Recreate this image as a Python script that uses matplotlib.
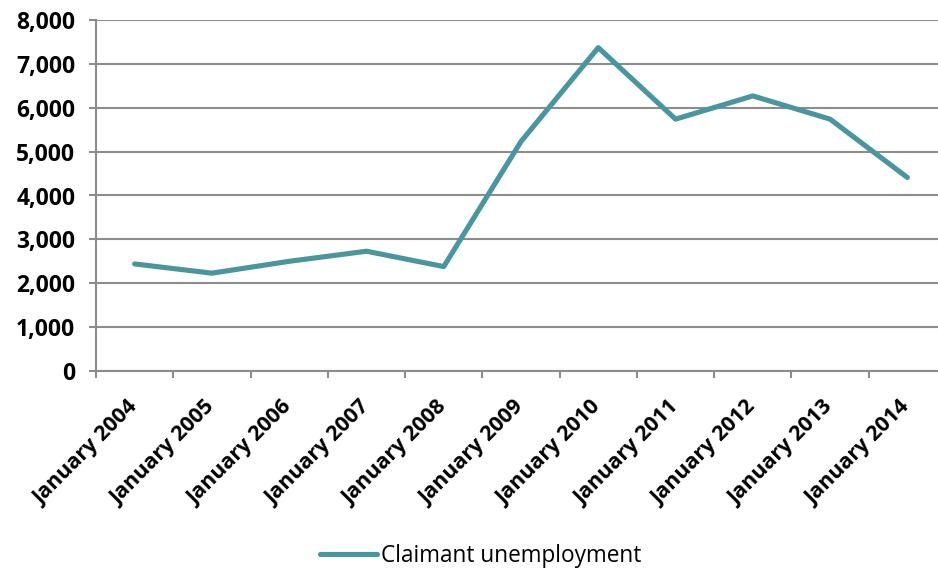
import matplotlib
matplotlib.use("Agg")
import matplotlib.pyplot as plt
from matplotlib.ticker import FuncFormatter, MultipleLocator, FixedLocator

categories = ["January 2004", "January 2005", "January 2006", "January 2007",
              "January 2008", "January 2009", "January 2010", "January 2011",
              "January 2012", "January 2013", "January 2014"]
claimant = [2440, 2230, 2500, 2730, 2380, 5230, 7370, 5740, 6270, 5740, 4410]
series_name = "Claimant unemployment"

plt.rcParams['font.family'] = ['Open Sans', 'DejaVu Sans']

W, H = 938, 572
fig = plt.figure(figsize=(W / 100, H / 100), dpi=100)
left, right, top, bottom = 96, 946, 20, 371
ax = fig.add_axes([left / W, 1 - bottom / H, (right - left) / W, (bottom - top) / H])

grid_c = "#8c8c8c"
line_c = "#4a969e"
x = list(range(len(categories)))
ln, = ax.plot(x, claimant, color=line_c, lw=3.7, solid_joinstyle='round',
              solid_capstyle='round', label=series_name, zorder=3)

ax.set_xlim(-0.5, len(categories) - 0.5)
ax.set_ylim(0, 8000)
ax.yaxis.set_major_locator(MultipleLocator(1000))
ax.yaxis.set_major_formatter(FuncFormatter(lambda v, p: f"{int(v):,}"))
ax.grid(axis='y', color=grid_c, lw=1.5, zorder=0)
ax.set_axisbelow(True)

ax.set_xticks(x)
ax.set_xticklabels(categories, rotation=45, ha='right', va='center',
                   rotation_mode='anchor', fontweight='bold', fontsize=15.5)
ax.xaxis.set_minor_locator(FixedLocator([i - 0.5 for i in x]))
ax.tick_params(axis='x', which='major', length=0, pad=24)
ax.tick_params(axis='x', which='minor', length=5, width=1.5, color=grid_c)
ax.tick_params(axis='y', length=5, width=1.5, color=grid_c, pad=10, labelsize=16.5)
for lab in ax.get_yticklabels():
    lab.set_fontweight('bold')

for s in ['top', 'right']:
    ax.spines[s].set_visible(False)
for s in ['left', 'bottom']:
    ax.spines[s].set_color(grid_c)
    ax.spines[s].set_linewidth(1.5)

fig.legend(handles=[ln], loc='center', bbox_to_anchor=(481 / W, 1 - 556 / H),
           frameon=False, fontsize=16.3, handlelength=2.5, handletextpad=0.2)

fig.savefig("out.png", dpi=100)
